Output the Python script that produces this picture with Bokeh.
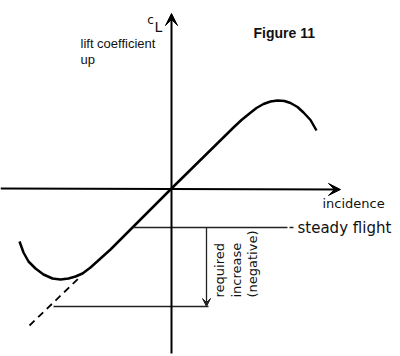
from bokeh.plotting import figure
from bokeh.models import Range1d, Arrow, VeeHead, Label
from bokeh.embed import file_html
from bokeh.resources import INLINE
import math

# lift curve (incidence, cL)
curve_inc = [-152, -148, -143, -136, -128, -119, -111, -103, -96, -89, -81, -71, -61, 0,
             62, 70, 78, 85, 92, 99, 106, 113, 119, 126, 132, 139, 145]
curve_cl = [-53, -64, -73, -80, -86, -90, -91, -90, -88, -85, -79, -70, -61, 0,
            61, 68.5, 75, 80.5, 84.5, 87, 88, 87.5, 85.5, 81.5, 76, 68.5, 58]
# dashed linear extension
dash_inc = [-142, -91]
dash_cl = [-137, -88]
# steady flight level
steady_inc = [-39, 116]
steady_cl = [-39, -39]
# required level
req_inc = [-118, 37]
req_cl = [-118, -118]
req_arrow_inc = 35

p = figure(width=400, height=356, x_range=Range1d(-171, 229), y_range=Range1d(-168, 188),
           x_axis_location=None, y_axis_location=None, min_border=0,
           toolbar_location=None, output_backend="svg")
p.grid.visible = False
p.outline_line_color = None
p.background_fill_color = "white"
p.border_fill_color = "white"

# axes with arrows
p.add_layout(Arrow(x_start=0, y_start=-165, x_end=0, y_end=175, line_width=2, line_color="black",
                   end=VeeHead(size=12, fill_color="black", line_color="black", line_width=1)))
p.add_layout(Arrow(x_start=-171, y_start=0, x_end=169, y_end=-1, line_width=2, line_color="black",
                   end=VeeHead(size=12, fill_color="black", line_color="black", line_width=1)))

# curve
p.line(curve_inc, curve_cl, line_width=2.5, line_color="black", line_join="round")
p.line(dash_inc, dash_cl, line_width=1.8, line_color="black", line_dash="7 5")

# levels
p.line(steady_inc, steady_cl, line_width=1.4, line_color="#222222")
p.line([steady_inc[1] + 2, steady_inc[1] + 6], steady_cl, line_width=1.4, line_color="#222222")
p.line(req_inc, req_cl, line_width=1.4, line_color="#222222")
p.add_layout(Arrow(x_start=req_arrow_inc, y_start=steady_cl[0], x_end=req_arrow_inc, y_end=req_cl[0],
                   line_width=1.3, line_color="#222222",
                   end=VeeHead(size=8, fill_color="#222222", line_color="#222222", line_width=1)))

def lab(x, y, t, font="DejaVu Sans", size="13px", style="normal", align="left", baseline="middle", angle=0):
    p.add_layout(Label(x=x, y=y, text=t, text_font=font, text_font_size=size, text_font_style=style,
                       text_align=align, text_baseline=baseline, angle=angle, text_color="#111111"))

lab(82, 156, "Figure 11", font="Liberation Sans", size="14px", style="bold")
lab(-91, 145, "lift coefficient", font="Liberation Sans", size="13px")
lab(-91, 129, "up", font="Liberation Sans", size="13px")
lab(-21, 169, "c", size="12px", align="center")
lab(-13, 162, "L", size="14px", align="center")
lab(151, -15, "incidence", size="13px")
lab(126, -39, "steady flight", size="15px")
lab(48, -109, "required", size="13px", align="left", angle=math.pi / 2)
lab(65, -109, "increase", size="13px", align="left", angle=math.pi / 2)
lab(81, -109, "(negative)", size="13px", align="left", angle=math.pi / 2)

open("out.html", "w").write(file_html(p, INLINE))
